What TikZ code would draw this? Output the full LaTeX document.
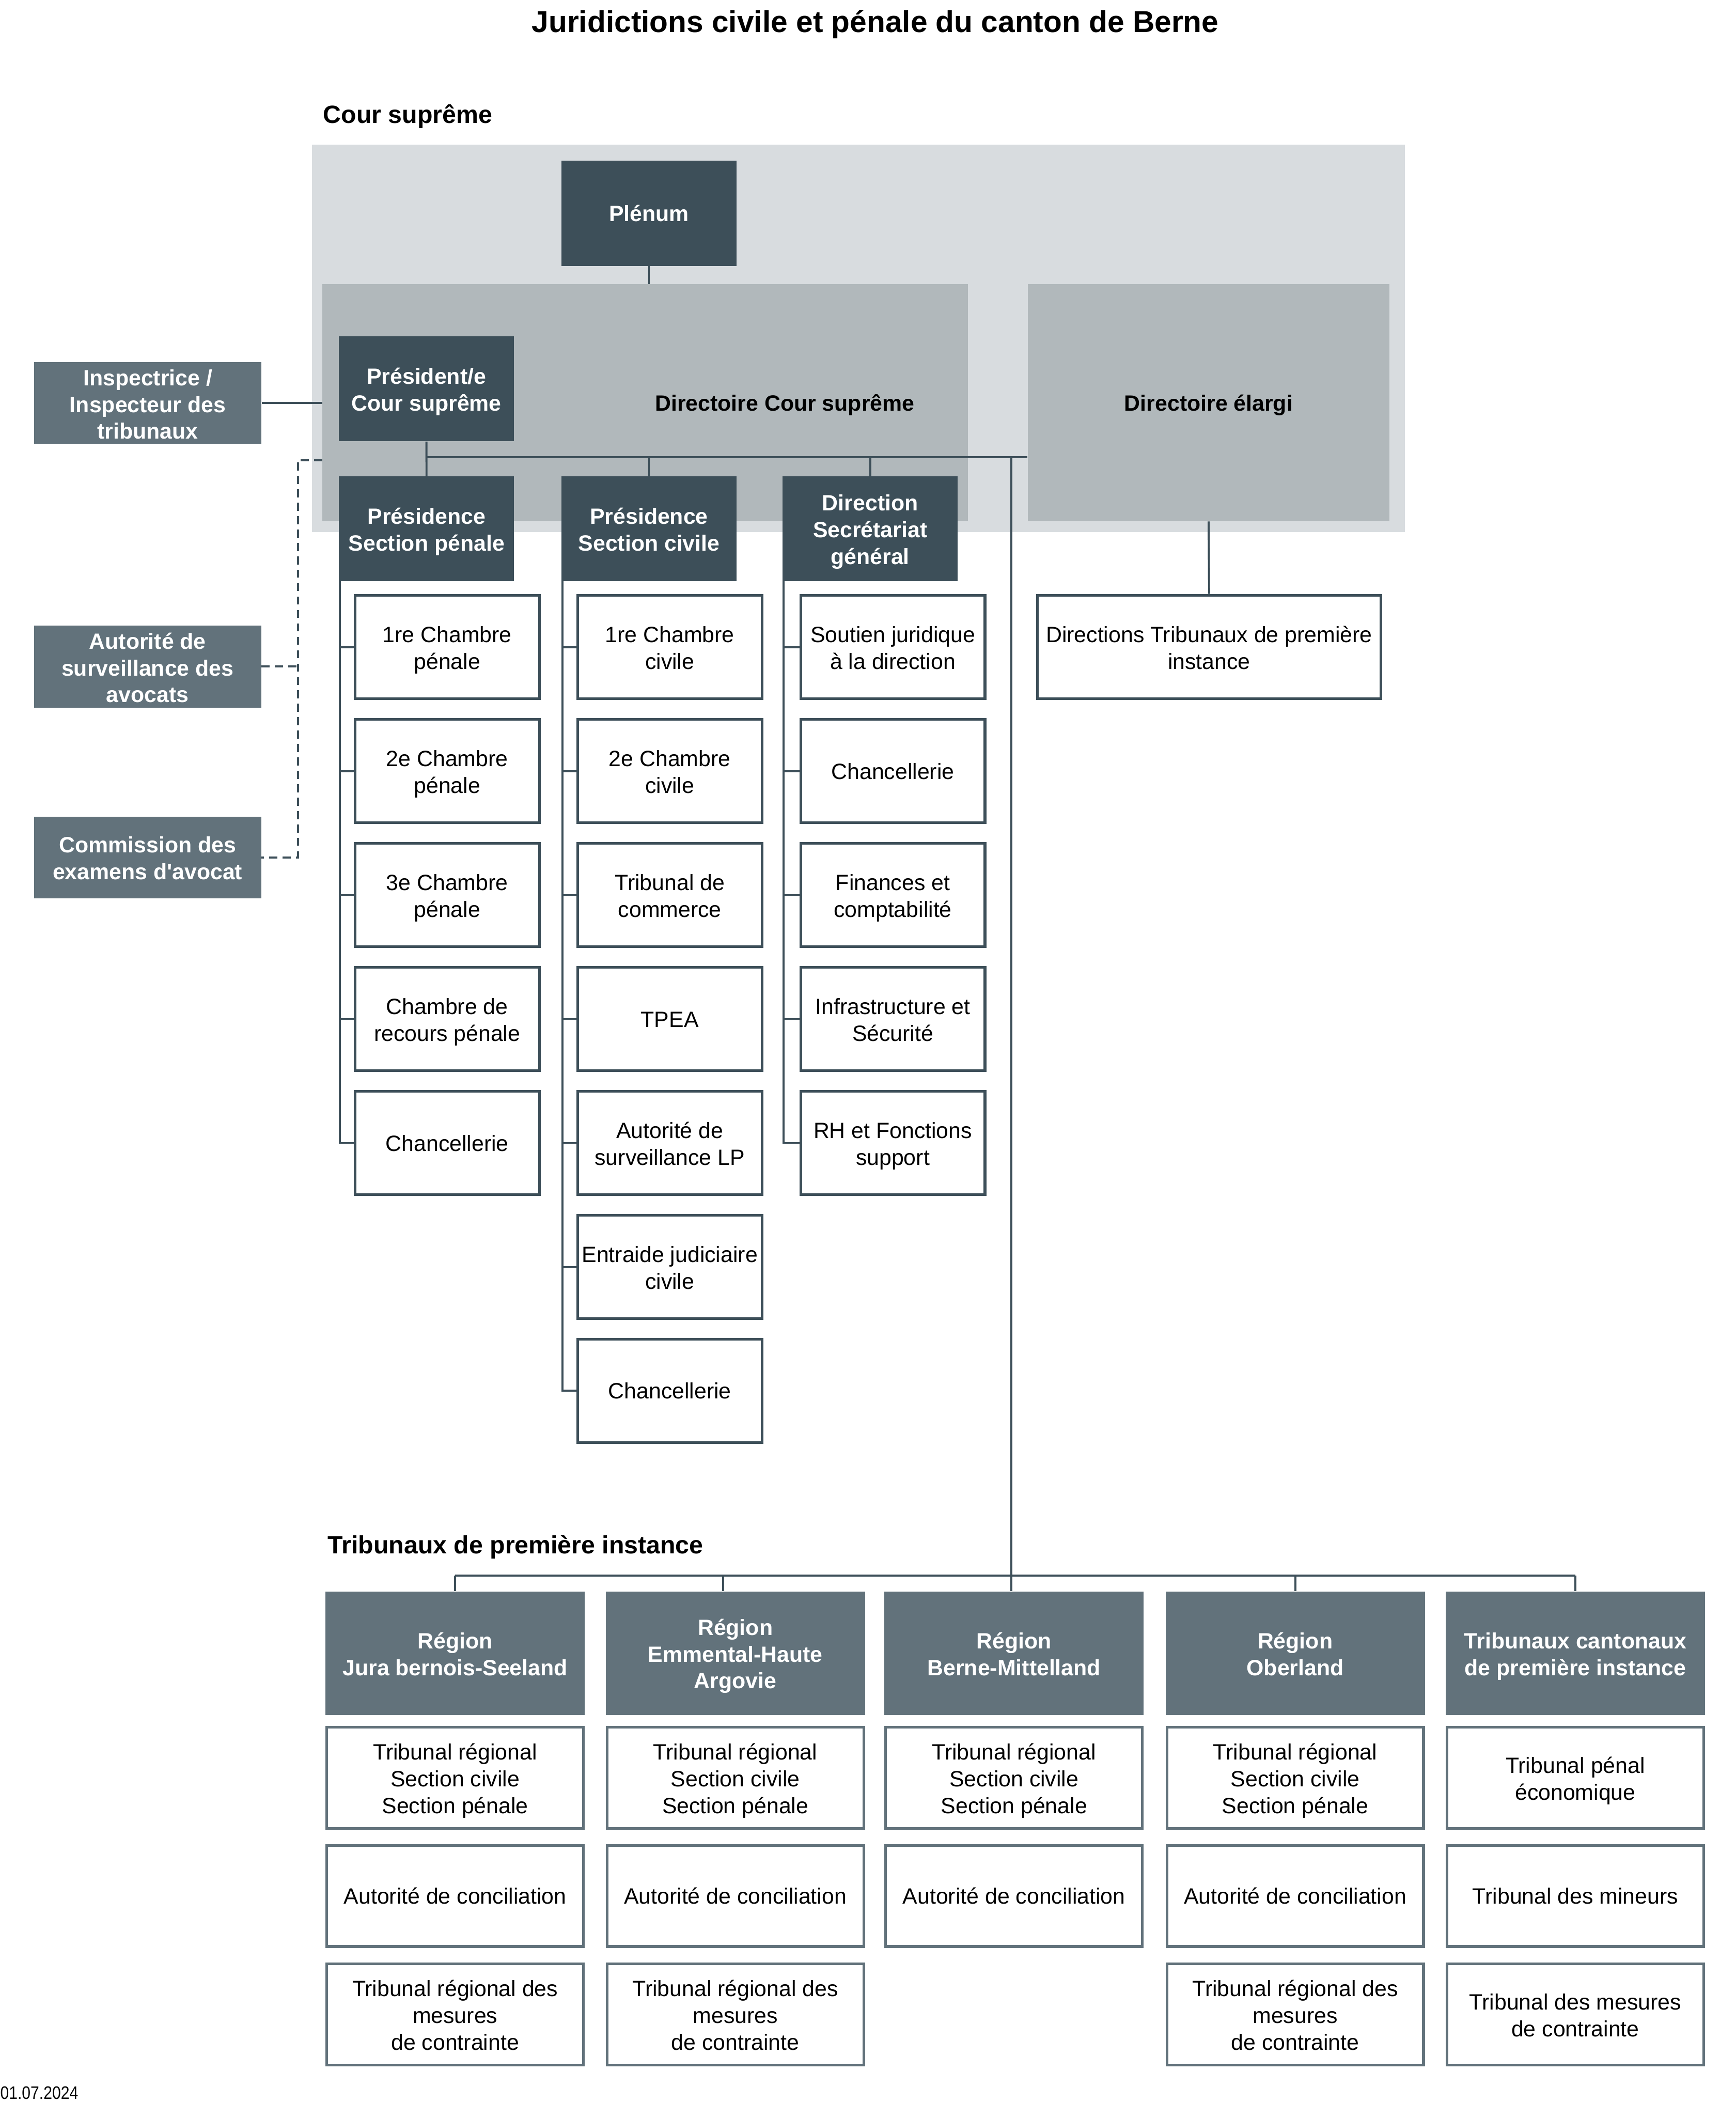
\documentclass[tikz,border=0pt]{standalone}
\usepackage{fontspec}
\setmainfont{Liberation Sans}
\newfontfamily\datefont{Liberation Sans}[FakeStretch=0.86]
\definecolor{cDark}{HTML}{3D4F59}
\definecolor{cMid}{HTML}{62727B}
\definecolor{cLight}{HTML}{D8DCDF}
\definecolor{cDir}{HTML}{B1B8BB}
\newcommand{\topstrut}{\rule{0pt}{17pt}}
\newcommand{\botstrut}{\rule[-5pt]{0pt}{0pt}}
\newcommand{\fl}{\rule{0pt}{18pt}}
\newcommand{\fls}{\rule{0pt}{14pt}}
\begin{document}
\begin{tikzpicture}[x=1pt,y=-1pt,
  every node/.style={inner sep=2pt, align=center},
  struts/.style={execute at begin node=\topstrut, execute at end node=\botstrut},
  txt/.style={font=\fontsize{16.5}{20}\selectfont, struts},
  btxt/.style={font=\bfseries\fontsize{16.5}{20}\selectfont, struts},
  panel/.style={rectangle, fill=#1, inner sep=0pt},
  darkbox/.style={rectangle, fill=cDark, text=white, btxt, minimum width=130.5pt, minimum height=78.5pt},
  midbase/.style={rectangle, fill=cMid, text=white, font=\bfseries\fontsize{16.5}{20}\selectfont, minimum width=169.5pt, minimum height=61.2pt, inner ysep=0pt},
  midbox/.style={midbase, struts},
  regbox/.style={rectangle, fill=cMid, text=white, btxt, minimum width=193.5pt, minimum height=92.2pt},
  childbox/.style={rectangle, draw=cDark, line width=2pt, fill=white, txt, minimum width=137.5pt, minimum height=77pt},
  rchild/.style={rectangle, draw=cMid, line width=2pt, fill=white, txt, minimum width=191.5pt, minimum height=75.5pt},
  conn/.style={draw=cDark, line width=1.5pt},
  dashconn/.style={conn, dash pattern=on 6pt off 4pt},
]
\useasboundingbox (0,0) rectangle (1295,1568);

% titles
\node[anchor=base, font=\bfseries\fontsize{22.6}{26}\selectfont, inner sep=0] (title) at (653,24) {Juridictions civile et pénale du canton de Berne};
\node[anchor=base west, font=\bfseries\fontsize{18.6}{22}\selectfont, inner sep=0] (lblCS) at (241,92) {Cour suprême};
\node[anchor=base west, font=\bfseries\fontsize{18.6}{22}\selectfont, inner sep=0] (lblTPI) at (244.4,1159) {Tribunaux de première instance};

% Cour supreme panels
\node[panel=cLight, minimum width=815.5pt, minimum height=288.8pt] (outer) at (640.45,252.4) {};
\node[panel=cDir, minimum width=481.5pt, minimum height=176.8pt] (dirCS) at (481.35,300.4) {};
\node[btxt] (dirCSlbl) at (585.5,300.6) {Directoire Cour suprême};
\node[panel=cDir, btxt, minimum width=269.8pt, minimum height=176.7pt] (dirEl) at (901.7,300.45) {Directoire élargi};

\node[darkbox] (plenum) at (484.2,159.15) {Plénum};
\node[darkbox] (pres) at (318.15,290) {\fl Président/e\\Cour suprême};
\node[midbase] (insp) at (110.25,300.6) {\fls Inspectrice /\\Inspecteur des\\tribunaux};
\node[midbase] (avoc) at (110.1,497.15) {\fls Autorité de\\surveillance des\\avocats};
\node[midbox] (comm) at (110.1,639.7) {\fl Commission des\\examens d\textquotesingle avocat};

\node[darkbox, minimum height=78pt] (presP) at (318.2,394.4) {\fl Présidence\\Section pénale};
\node[darkbox, minimum height=78pt] (presC) at (484.2,394.4) {\fl Présidence\\Section civile};
\node[darkbox, minimum height=78pt] (dirSG) at (649.2,394.4) {\fl Direction\\Secrétariat\\général};

% penal column
\node[childbox] (p1) at (333.6,482.7) {\fl 1re Chambre\\pénale};
\node[childbox] (p2) at (333.6,575.2) {\fl 2e Chambre\\pénale};
\node[childbox] (p3) at (333.6,667.6) {\fl 3e Chambre\\pénale};
\node[childbox] (p4) at (333.6,760.1) {\fl Chambre de\\recours pénale};
\node[childbox] (p5) at (333.6,852.6) {Chancellerie};

% civil column
\node[childbox] (c1) at (499.7,482.7) {\fl 1re Chambre\\civile};
\node[childbox] (c2) at (499.7,575.2) {\fl 2e Chambre\\civile};
\node[childbox] (c3) at (499.7,667.6) {\fl Tribunal de\\commerce};
\node[childbox] (c4) at (499.7,760.1) {TPEA};
\node[childbox] (c5) at (499.7,852.6) {\fl Autorité de\\surveillance LP};
\node[childbox] (c6) at (499.7,945.1) {\fl Entraide judiciaire\\civile};
\node[childbox] (c7) at (499.7,1037.5) {Chancellerie};

% direction column
\node[childbox] (d1) at (666.1,482.7) {\fl Soutien juridique\\à la direction};
\node[childbox] (d2) at (666.1,575.2) {Chancellerie};
\node[childbox] (d3) at (666.1,667.6) {\fl Finances et\\comptabilité};
\node[childbox] (d4) at (666.1,760.1) {\fl Infrastructure et\\Sécurité};
\node[childbox] (d5) at (666.1,852.6) {\fl RH et Fonctions\\support};

\node[childbox, minimum width=256.3pt] (dirTPI) at (902.05,482.55) {\fl Directions Tribunaux de première\\instance};

% regions
\node[regbox] (reg1) at (339.55,1233.2) {\fl Région\\Jura bernois-Seeland};
\node[regbox] (reg2) at (548.6,1233.2) {\fl Région\\Emmental-Haute\\Argovie};
\node[regbox] (reg3) at (756.55,1233.2) {\fl Région\\Berne-Mittelland};
\node[regbox] (reg4) at (966.3,1233.2) {\fl Région\\Oberland};
\node[regbox] (reg5) at (1175.3,1233.2) {\fl Tribunaux cantonaux\\de première instance};

\node[rchild] (r1a) at (339.55,1326.25) {\fl Tribunal régional\\Section civile\\Section pénale};
\node[rchild] (r1b) at (339.55,1414.25) {Autorité de conciliation};
\node[rchild] (r1c) at (339.55,1502.8) {\fl Tribunal régional des\\mesures\\de contrainte};
\node[rchild] (r2a) at (548.6,1326.25) {\fl Tribunal régional\\Section civile\\Section pénale};
\node[rchild] (r2b) at (548.6,1414.25) {Autorité de conciliation};
\node[rchild] (r2c) at (548.6,1502.8) {\fl Tribunal régional des\\mesures\\de contrainte};
\node[rchild] (r3a) at (756.55,1326.25) {\fl Tribunal régional\\Section civile\\Section pénale};
\node[rchild] (r3b) at (756.55,1414.25) {Autorité de conciliation};
\node[rchild] (r4a) at (966.3,1326.25) {\fl Tribunal régional\\Section civile\\Section pénale};
\node[rchild] (r4b) at (966.3,1414.25) {Autorité de conciliation};
\node[rchild] (r4c) at (966.3,1502.8) {\fl Tribunal régional des\\mesures\\de contrainte};
\node[rchild] (r5a) at (1175.3,1326.25) {\fl Tribunal pénal\\économique};
\node[rchild] (r5b) at (1175.3,1414.25) {Tribunal des mineurs};
\node[rchild] (r5c) at (1175.3,1502.8) {\fl Tribunal des mesures\\de contrainte};

\node[anchor=base west, font=\datefont\fontsize{13.5}{15}\selectfont, inner sep=0] (date) at (0,1566) {01.07.2024};

% connectors
\coordinate (busy) at (0,341.2);
\coordinate (busb) at (0,1175.3);
\coordinate (vtop) at (754.5,341.2);
\coordinate (dx) at (222.2,0);

\draw[conn] (insp.east) -- (insp.east -| dirCS.west);
\draw[conn] (plenum.south) -- (plenum.south |- dirCS.north);
\draw[conn] (pres.south) -- (presP.north);
\draw[conn] (pres.south |- busy) -- (dirEl.west |- busy);
\draw[conn] (presC.north) -- (presC.north |- busy);
\draw[conn] (dirSG.north) -- (dirSG.north |- busy);
\draw[conn] (dirEl.south) -- (dirTPI.north);

\draw[dashconn] (dirCS.west |- 0,343.2) -| (dx |- comm.east) -- (comm.east);
\draw[dashconn] (avoc.east) -- (avoc.east -| dx);

\coordinate (pcol) at ([xshift=0.75pt]presP.south west);
\coordinate (ccol) at ([xshift=0.75pt]presC.south west);
\coordinate (dcol) at ([xshift=0.75pt]dirSG.south west);
\draw[conn] (pcol) |- (p5.west);
\foreach \n in {p1,p2,p3,p4} \draw[conn] (\n.west) -- (\n.west -| pcol);
\draw[conn] (ccol) |- (c7.west);
\foreach \n in {c1,c2,c3,c4,c5,c6} \draw[conn] (\n.west) -- (\n.west -| ccol);
\draw[conn] (dcol) |- (d5.west);
\foreach \n in {d1,d2,d3,d4} \draw[conn] (\n.west) -- (\n.west -| dcol);

\draw[conn] (vtop) -- (vtop |- reg3.north);
\draw[conn] (reg1.north |- busb) -- (reg5.north |- busb);
\foreach \n in {reg1,reg4,reg5} \draw[conn] (\n.north) -- (\n.north |- busb);
\draw[conn] ([xshift=-9.1pt]reg2.north) -- ([xshift=-9.1pt]reg2.north |- busb);
\end{tikzpicture}
\end{document}
